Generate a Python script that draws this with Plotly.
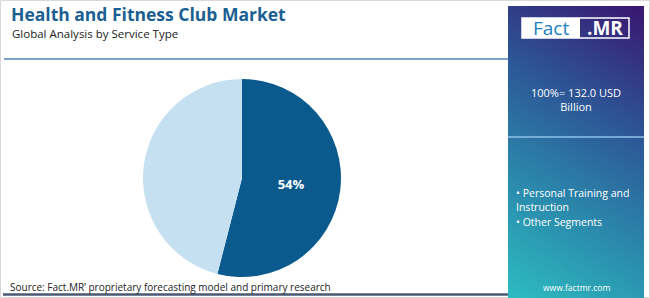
import numpy as np
import plotly.graph_objects as go

# ---- data ----
segments = ["Personal Training and Instruction", "Other Segments"]
shares = [54, 46]
slice_labels = ["54%", ""]
slice_colors = ["#0b5a8e", "#c5e0f1"]
title_text = "Health and Fitness Club Market"
subtitle_text = "Global Analysis by Service Type"
total_text = "100%= 132.0 USD<br>Billion"
source_text = "Source: Fact.MR’ proprietary forecasting model and primary research"

W, H = 650, 298
def px(x): return x / W
def py(y): return 1 - y / H

FONT = "Open Sans"

fig = go.Figure()

# gradient panel via heatmap on its own axes
nx, ny = 30, 60
u = np.linspace(0, 1, nx)
v = np.linspace(0, 1, ny)
U, V = np.meshgrid(u, v)
Z = 0.78 * V + 0.22 * U
fig.add_trace(go.Heatmap(
    z=Z, x=u, y=v, xaxis="x2", yaxis="y2", showscale=False, hoverinfo="skip",
    zsmooth="best", zmin=0, zmax=1,
    colorscale=[[0, "#2cbcc0"], [0.35, "#2b86ab"], [0.65, "#2d5596"], [1, "#3a1670"]],
))

fig.add_trace(go.Pie(
    labels=segments, values=shares, text=slice_labels, textinfo="text",
    marker=dict(colors=slice_colors, line=dict(width=0)),
    sort=False, direction="clockwise", rotation=0,
    textfont=dict(family=FONT, size=13, color="white", weight="bold"),
    insidetextorientation="horizontal",
    domain=dict(x=[px(143), px(341)], y=[py(277), py(79)]),
    showlegend=False, hoverinfo="label+percent",
))

shapes = [
    # outer frame
    dict(type="rect", xref="paper", yref="paper", x0=px(0.5), x1=px(649.5), y0=py(297.5), y1=py(0.5),
         line=dict(color="#d9d9d9", width=1), fillcolor="rgba(0,0,0,0)", layer="below"),
    # horizontal blue line under heading
    dict(type="line", xref="paper", yref="paper", x0=px(4), x1=px(508), y0=py(59), y1=py(59),
         line=dict(color="#4f85b5", width=1.5)),
    # bottom dark line
    dict(type="line", xref="paper", yref="paper", x0=px(3), x1=px(508), y0=py(294.5), y1=py(294.5),
         line=dict(color="#4a5874", width=2.5)),
    # divider inside panel
    dict(type="line", xref="paper", yref="paper", x0=px(508), x1=px(644), y0=py(137), y1=py(137),
         line=dict(color="#8cc2ea", width=1.5)),
    # logo white fill and outline
    dict(type="rect", xref="paper", yref="paper", x0=px(522), x1=px(580), y0=py(38), y1=py(18),
         line=dict(width=0), fillcolor="white"),
    dict(type="rect", xref="paper", yref="paper", x0=px(522), x1=px(629), y0=py(38), y1=py(18),
         line=dict(color="white", width=1.5), fillcolor="rgba(0,0,0,0)"),
]

ann = [
    dict(text=title_text, x=px(9), y=py(14), xanchor="left", yanchor="middle",
         font=dict(family=FONT, size=17.5, color="#1b5f92", weight="bold")),
    dict(text=subtitle_text, x=px(10), y=py(34), xanchor="left", yanchor="middle",
         font=dict(family=FONT, size=11.5, color="#222222")),
    dict(text="Fact", x=px(551), y=py(28), xanchor="center", yanchor="middle",
         font=dict(family=FONT, size=19, color="#1c7fc0")),
    dict(text=".MR", x=px(605), y=py(28), xanchor="center", yanchor="middle",
         font=dict(family=FONT, size=19, color="white", weight="bold")),
    dict(text=total_text, x=px(576), y=py(100), xanchor="center", yanchor="middle",
         font=dict(family=FONT, size=11, color="white"), align="center"),
    dict(text="• " + segments[0].replace("and ", "and<br>"), x=px(514), y=py(200), xanchor="left",
         yanchor="middle", font=dict(family=FONT, size=10.5, color="white"), align="left"),
    dict(text="• " + segments[1], x=px(514), y=py(222), xanchor="left", yanchor="middle",
         font=dict(family=FONT, size=10.5, color="white"), align="left"),
    dict(text="www.factmr.com", x=px(576), y=py(287), xanchor="center", yanchor="middle",
         font=dict(family=FONT, size=8.5, color="white")),
    dict(text=source_text, x=px(8), y=py(287), xanchor="left", yanchor="middle",
         font=dict(family=FONT, size=10, color="#222222")),
]
for a in ann:
    a.update(xref="paper", yref="paper", showarrow=False)

fig.update_layout(
    width=W, height=H, margin=dict(l=0, r=0, t=0, b=0),
    paper_bgcolor="white", plot_bgcolor="white",
    xaxis2=dict(domain=[px(508), px(644)], range=[0, 1], visible=False, fixedrange=True),
    yaxis2=dict(domain=[0, py(6)], range=[0, 1], visible=False, fixedrange=True, anchor="x2"),
    xaxis=dict(visible=False), yaxis=dict(visible=False),
    shapes=shapes, annotations=ann,
)
fig.data[0].update(xaxis="x2", yaxis="y2")

fig.write_html("out.html")
